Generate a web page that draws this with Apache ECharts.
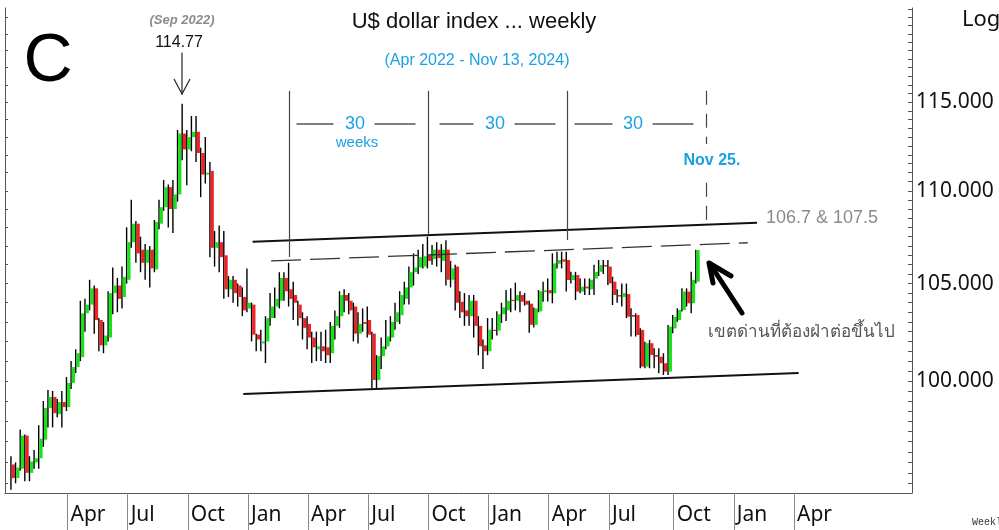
<!DOCTYPE html>
<html>
<head>
<meta charset="utf-8">
<script src="https://cdn.jsdelivr.net/npm/echarts@6/dist/echarts.min.js"></script>
<style>
  html, body { margin: 0; padding: 0; background: #fff; }
  #chart { width: 999px; height: 530px; }
</style>
</head>
<body>
<div id="chart"></div>
<script>
// weekly candles, Jan 10 2022 .. Nov 11 2024
const firstWeek = '2022-01-03';
const weekCount = 196;
const candleStart = '2022-01-10';

const opens = [
  95.9, 95.25, 95.7, 97.3, 95.5, 96.0, 96.2, 97.1, 98.65, 99.2,
  98.35, 98.95, 98.7, 99.9, 100.7, 101.2, 103.45, 103.9, 104.75, 103.1,
  101.8, 102.2, 104.5, 104.9, 104.3, 105.2, 107.2, 108.2, 106.8, 106.1,
  106.8, 105.75, 108.2, 109.1, 110.2, 109.0, 109.8, 113.2, 112.3, 113.0,
  113.3, 112.1, 110.9, 111.1, 106.9, 107.2, 106.5, 104.7, 105.2, 104.9,
  104.3, 103.7, 103.9, 102.35, 101.9, 102.0, 103.2, 103.8, 104.1, 105.3,
  104.7, 104.4, 103.9, 103.2, 102.9, 102.2, 101.6, 101.75, 101.7, 101.4,
  102.8, 103.3, 104.4, 104.1, 103.8, 102.4, 103.0, 103.1, 102.4, 100.05,
  101.25, 101.75, 102.2, 103.0, 103.35, 104.2, 104.8, 105.6, 105.85, 105.9,
  106.5, 106.3, 106.8, 106.2, 106.8, 105.2, 105.9, 104.05, 103.6, 103.3,
  104.1, 102.8, 101.8, 101.5, 102.6, 102.55, 103.4, 103.6, 104.15, 104.1,
  104.4, 104.1, 103.95, 102.85, 103.55, 104.55, 104.66, 104.49, 106.05, 106.28,
  106.25, 105.19, 105.45, 104.58, 104.84, 104.7, 105.27, 105.62, 105.98, 105.9,
  105.1, 104.4, 104.3, 104.45, 103.36, 103.36, 102.59, 100.72, 101.91, 101.31,
  101.22, 100.89, 100.47, 102.67, 103.1, 103.62, 104.58, 103.97, 105.1
];
const closes = [
  95.25, 95.75, 97.3, 95.5, 96.05, 96.2, 97.15, 98.65, 99.2, 98.4,
  98.95, 98.7, 99.9, 100.7, 101.4, 103.45, 103.9, 104.75, 103.1, 101.8,
  102.3, 104.5, 104.9, 104.2, 105.35, 107.2, 108.2, 106.6, 106.1, 106.8,
  105.8, 108.3, 109.1, 110.2, 109.0, 109.8, 113.2, 112.3, 113.0, 113.3,
  112.1, 110.9, 111.0, 106.9, 107.2, 106.4, 104.7, 105.2, 104.5, 104.3,
  103.6, 104.0, 102.35, 102.1, 102.0, 103.2, 103.8, 104.2, 105.3, 104.6,
  104.2, 104.0, 103.2, 102.7, 102.2, 101.7, 101.75, 101.5, 101.3, 102.8,
  103.3, 104.4, 104.1, 103.6, 102.4, 102.9, 102.9, 102.35, 100.05, 101.25,
  101.75, 102.25, 103.0, 103.5, 104.4, 104.8, 105.6, 105.85, 106.4, 106.45,
  106.2, 106.8, 106.35, 106.8, 105.2, 105.8, 104.0, 103.5, 103.3, 104.1,
  102.8, 101.75, 101.5, 102.6, 102.55, 103.4, 103.75, 104.1, 104.1, 104.4,
  104.05, 103.9, 102.85, 103.7, 104.6, 104.65, 104.49, 106.07, 106.25, 106.16,
  105.19, 105.45, 104.58, 104.84, 104.75, 105.2, 105.62, 105.98, 105.9, 105.01,
  104.4, 104.32, 104.5, 103.27, 103.27, 102.33, 100.72, 101.91, 101.31, 101.22,
  100.89, 100.47, 102.76, 103.27, 103.62, 104.58, 103.97, 105.19, 106.78
];
const lows = [
  94.7, 95.0, 95.6, 95.1, 95.1, 95.7, 95.7, 96.75, 97.7, 97.7,
  98.2, 97.7, 98.5, 99.6, 100.4, 101.0, 102.5, 103.6, 102.4, 101.5,
  101.4, 102.0, 103.4, 103.5, 103.7, 105.0, 106.9, 106.1, 105.6, 105.2,
  104.8, 105.6, 107.9, 108.9, 108.0, 107.7, 109.4, 111.7, 110.3, 112.2,
  111.6, 109.65, 110.4, 106.4, 105.9, 105.6, 104.2, 104.3, 104.0, 103.8,
  103.3, 103.5, 102.0, 101.5, 101.5, 100.9, 102.8, 103.2, 103.7, 104.1,
  103.8, 103.1, 102.8, 102.1, 101.6, 100.9, 101.0, 101.0, 100.9, 100.9,
  102.1, 102.7, 103.5, 103.4, 102.0, 101.9, 102.5, 102.2, 99.65, 99.65,
  100.6, 101.6, 102.0, 102.6, 102.9, 103.9, 103.9, 104.9, 105.5, 105.8,
  105.8, 106.0, 105.9, 105.6, 104.9, 104.8, 103.6, 103.2, 102.8, 102.8,
  102.2, 101.3, 100.6, 101.3, 102.1, 102.3, 102.95, 103.05, 103.5, 103.6,
  103.5, 103.85, 102.45, 102.72, 103.5, 104.05, 104.06, 103.97, 105.8, 105.8,
  104.58, 105.0, 104.14, 104.49, 104.4, 104.4, 104.4, 105.4, 105.5, 104.93,
  103.88, 104.0, 103.8, 103.2, 102.25, 102.25, 100.64, 100.64, 100.64, 100.64,
  100.39, 100.3, 100.3, 102.42, 103.01, 103.54, 103.8, 103.45, 105.0
];
const highs = [
  96.3, 96.0, 97.6, 97.35, 96.3, 96.6, 97.8, 99.0, 99.55, 99.5,
  99.1, 99.5, 100.2, 101.0, 101.6, 104.1, 104.2, 105.2, 104.9, 103.2,
  103.0, 104.6, 105.85, 105.3, 105.9, 108.0, 109.5, 108.35, 107.5, 107.1,
  107.0, 108.4, 109.5, 110.6, 110.35, 110.6, 113.4, 114.9, 113.4, 114.2,
  114.2, 112.4, 113.0, 111.6, 107.8, 108.1, 107.8, 105.4, 105.4, 105.0,
  104.8, 105.8, 104.0, 102.4, 102.6, 103.3, 104.5, 104.8, 105.6, 105.6,
  106.1, 105.1, 104.1, 103.5, 103.3, 102.5, 102.5, 102.5, 102.6, 103.0,
  103.6, 104.6, 104.7, 104.5, 104.0, 103.5, 103.7, 103.8, 102.5, 101.3,
  102.2, 103.1, 103.3, 104.0, 104.6, 105.1, 105.9, 106.6, 106.8, 107.1,
  107.5, 107.05, 107.2, 107.1, 107.3, 106.2, 106.0, 104.6, 104.5, 104.4,
  104.4, 103.3, 102.1, 103.2, 103.2, 103.55, 104.0, 104.66, 104.75, 105.05,
  104.6, 104.5, 104.1, 103.75, 104.66, 105.1, 105.27, 106.6, 106.69, 106.69,
  106.69, 105.62, 105.62, 105.27, 105.27, 105.27, 106.0, 106.25, 106.25, 106.25,
  105.36, 104.7, 105.0, 105.0, 103.71, 103.45, 102.67, 101.99, 102.08, 101.65,
  101.65, 101.4, 102.85, 103.36, 103.71, 104.75, 104.75, 105.62, 106.8
];

// quarter separators on the time axis
const tickWeeks = ['2022-04-04', '2022-07-04', '2022-10-03', '2023-01-02', '2023-04-03', '2023-07-03',
  '2023-10-02', '2024-01-01', '2024-04-01', '2024-07-01', '2024-10-07', '2025-01-06', '2025-04-07'];
const tickLabels = ['Apr', 'Jul', 'Oct', 'Jan', 'Apr', 'Jul', 'Oct', 'Jan', 'Apr', 'Jul', 'Oct', 'Jan', 'Apr'];

// price axis (log)
const priceLabels = [100, 105, 110, 115];
const priceMin = 94.54;
const priceMax = 120.55;

// trend lines [week, price]
const resistanceLine = [['2023-01-09', 107.23], ['2025-02-10', 108.25]];
const dashedLine = [['2023-02-06', 106.2], ['2025-01-27', 107.17]];
const supportLine = [['2022-12-26', 99.35], ['2025-04-14', 100.4]];
// 30-week cycle marks
const cycleWeeks = ['2023-03-06', '2023-10-02', '2024-04-29', '2024-11-25'];
const cycleTop = 115.65;
const cycleBottom = [106.41, 107.59, 107.32, 108.24];

function addWeeks(dateStr, n) {
    let d = new Date(dateStr + 'T00:00:00Z');
    d.setUTCDate(d.getUTCDate() + 7 * n);
    return d.toISOString().slice(0, 10);
}

let weeks = [];
for (let k = 0; k < weekCount; ++k)
    weeks.push(addWeeks(firstWeek, k));

let candles = [];
for (let i = 0; i < opens.length; ++i) {
    candles.push([addWeeks(candleStart, i), Math.log(opens[i]), Math.log(closes[i]),
        Math.log(lows[i]), Math.log(highs[i])]);
}

let tickLabelOf = {};
tickWeeks.forEach((w, i) => tickLabelOf[w] = tickLabels[i]);

let rightTicks = [];
for (let p = 95; p <= 120.5; p += 0.5) rightTicks.push(Math.log(p));
let leftTicks = [];
for (let p = 95; p <= 120; p += 1) leftTicks.push(Math.log(p));

function renderCandle(params, api) {
    let o = api.value(1), c = api.value(2);
    let pOpen = api.coord([api.value(0), o]);
    let pClose = api.coord([api.value(0), c]);
    let pLow = api.coord([api.value(0), api.value(3)]);
    let pHigh = api.coord([api.value(0), api.value(4)]);
    let x = pOpen[0];
    let top = Math.min(pOpen[1], pClose[1]);
    let h = Math.max(Math.abs(pOpen[1] - pClose[1]), 1.2);
    return {
        type: 'group',
        children: [{
            type: 'line',
            shape: { x1: x - 1, y1: pHigh[1], x2: x - 1, y2: pLow[1] },
            style: { stroke: '#000', lineWidth: 1.4 }
        }, {
            type: 'rect',
            shape: { x: x - 0.4, y: top, width: 3.3, height: h },
            style: { fill: c >= o ? '#1de01d' : '#ec2424' }
        }]
    };
}

function trend(pts, style) {
    return [{ coord: [pts[0][0], Math.log(pts[0][1])], lineStyle: style },
            { coord: [pts[1][0], Math.log(pts[1][1])] }];
}

let markLines = [
    trend(resistanceLine, { color: '#111', width: 2, type: 'solid' }),
    trend(dashedLine, { color: '#333', width: 1.3, type: [30, 9] }),
    trend(supportLine, { color: '#111', width: 2, type: 'solid' })
];
cycleWeeks.forEach((w, i) => {
    markLines.push([
        { coord: [w, Math.log(cycleTop)], lineStyle: { color: '#444', width: 1.2, type: i === 3 ? [14, 9] : 'solid' } },
        { coord: [w, Math.log(cycleBottom[i])] }
    ]);
});

const font = '"Liberation Sans", Arial, sans-serif';
const blue = '#1ba1e2';

function txt(x, y, text, size, color, extra) {
    return {
        type: 'text', x: x, y: y, z: 100,
        style: Object.assign({ text: text, fontSize: size, fontFamily: font, fill: color,
            align: 'center', verticalAlign: 'middle' }, extra || {})
    };
}
function seg(x1, y1, x2, y2, color, w) {
    return { type: 'line', z: 100, shape: { x1: x1, y1: y1, x2: x2, y2: y2 },
        style: { stroke: color, lineWidth: w, lineCap: 'round' } };
}

let Chart = echarts.init(document.getElementById('chart'));
let option = {
    animation: false,
    backgroundColor: '#fff',
    grid: { left: 5, right: 87, top: 8, bottom: 37 },
    xAxis: {
        type: 'category',
        data: weeks,
        boundaryGap: true,
        axisLine: { lineStyle: { color: '#555', width: 1 } },
        axisTick: {
            show: true, alignWithLabel: true, length: 37,
            interval: (i, v) => v in tickLabelOf,
            lineStyle: { color: '#888', width: 1 }
        },
        axisLabel: {
            interval: (i, v) => v in tickLabelOf,
            formatter: v => tickLabelOf[v] || '',
            align: 'left', padding: [0, 0, 0, 3], margin: 12,
            fontSize: 21, fontFamily: 'Noto Sans', color: '#111'
        },
        splitLine: { show: false }
    },
    yAxis: [{
        type: 'value', position: 'right',
        min: Math.log(priceMin), max: Math.log(priceMax),
        axisLine: { show: true, lineStyle: { color: '#555' } },
        axisTick: { show: true, inside: true, length: 4, customValues: rightTicks, lineStyle: { color: '#555' } },
        axisLabel: {
            customValues: priceLabels.map(p => Math.log(p)),
            formatter: v => Math.exp(v).toFixed(3),
            fontSize: 21, fontFamily: 'Noto Sans', color: '#111', margin: 4
        },
        splitLine: { show: false }
    }, {
        type: 'value', position: 'left',
        min: Math.log(priceMin), max: Math.log(priceMax),
        axisLine: { show: true, lineStyle: { color: '#555' } },
        axisTick: { show: true, inside: true, length: 3, customValues: leftTicks, lineStyle: { color: '#555' } },
        axisLabel: { show: false },
        splitLine: { show: false }
    }],
    series: [{
        type: 'custom',
        renderItem: renderCandle,
        encode: { x: 0, y: [1, 2, 3, 4] },
        data: candles
    }, {
        type: 'line',
        data: [],
        markLine: { silent: true, symbol: ['none', 'none'], label: { show: false }, data: markLines }
    }],
    graphic: [
        txt(48, 62, 'C', 68, '#000'),
        txt(182, 20, '(Sep 2022)', 13, '#8c8c8c', { fontWeight: 'bold', fontStyle: 'italic' }),
        txt(179, 43, '114.77', 16, '#111'),
        seg(182, 53, 182, 94, '#222', 1.2),
        { type: 'polyline', z: 100, shape: { points: [[174, 79], [182, 94], [190, 79]] },
          style: { stroke: '#222', lineWidth: 1.2, fill: null } },
        txt(474, 22, 'U$ dollar index ... weekly', 22, '#111'),
        txt(477, 61, '(Apr 2022 - Nov 13, 2024)', 16, blue),
        seg(297, 124, 333, 124, '#555', 1.4), seg(375, 124, 415, 124, '#555', 1.4),
        seg(440, 124, 473, 124, '#555', 1.4), seg(515, 124, 555, 124, '#555', 1.4),
        seg(575, 124, 612, 124, '#555', 1.4), seg(653, 124, 693, 124, '#555', 1.4),
        txt(355, 124, '30', 18, blue),
        txt(495, 124, '30', 18, blue),
        txt(633, 124, '30', 18, blue),
        txt(357, 143, 'weeks', 15, blue),
        txt(712, 161, 'Nov 25.', 16, blue, { fontWeight: 'bold', backgroundColor: '#fff', padding: [9, 1] }),
        txt(766, 218, '106.7 & 107.5', 18, '#8a8a8a', { align: 'left' }),
        txt(708, 332, 'เขตด่านที่ต้องฝ่าต่อขึ้นไป', 17, '#555', { align: 'left' }),
        seg(742, 313, 710, 264, '#000', 5),
        { type: 'polyline', z: 100, shape: { points: [[713, 283], [709, 263], [731, 276]] },
          style: { stroke: '#000', lineWidth: 5, fill: null, lineCap: 'round', lineJoin: 'round' } },
        txt(962, 20, 'Log', 22, '#111', { align: 'left', fontFamily: 'Noto Sans' }),
        txt(972, 522, 'Weekly', 10, '#333', { align: 'left', fontFamily: '"Liberation Mono", monospace' })
    ]
};
Chart.setOption(option);
</script>
</body>
</html>
